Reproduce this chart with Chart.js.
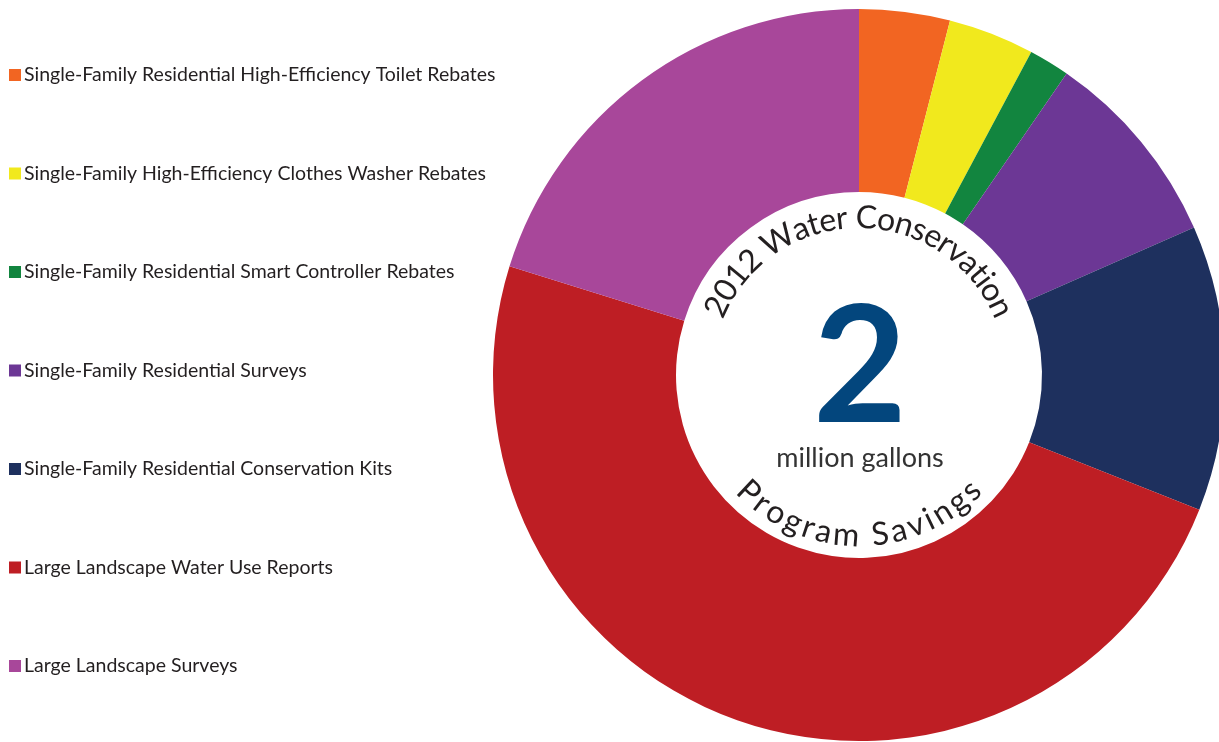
<!DOCTYPE html>
<html>
<head>
<meta charset="utf-8">
<script src="https://cdn.jsdelivr.net/npm/chart.js@4.4.1/dist/chart.umd.min.js"></script>
<style>
    html, body { margin: 0; padding: 0; background: #ffffff; overflow: hidden; }
    #savingsChart { display: block; }
</style>
</head>
<body>
<canvas id="savingsChart" width="1240" height="742"></canvas>
<script>
// program categories, share of savings (%), slice colours
const programLabels = [
    'Single-Family Residential High-Efficiency Toilet Rebates',
    'Single-Family High-Efficiency Clothes Washer Rebates',
    'Single-Family Residential Smart Controller Rebates',
    'Single-Family Residential Surveys',
    'Single-Family Residential Conservation Kits',
    'Large Landscape Water Use Reports',
    'Large Landscape Surveys'
];
const programSavings = [4.0, 3.8, 1.8, 8.8, 12.6, 48.8, 20.2];
const programColors = ['#F26522', '#F1E91D', '#12853F', '#6C3795', '#1E305E', '#BE1E24', '#A8479A'];

const topCaption = '2012 Water Conservation';
const bottomCaption = 'Program Savings';
const totalSavings = '2';
const totalUnit = 'million gallons';

function drawArcText(ctx, text, cx, cy, radius, spanDeg, onTop) {
    var widths = [];
    var sum = 0;
    for (let i = 0; i < text.length; i++) {
        var w = ctx.measureText(text[i]).width;
        widths.push(w);
        sum += w;
    }
    var target = spanDeg * Math.PI / 180 * radius;
    var gap = (target - sum) / (text.length - 1);
    var total = sum + gap * (text.length - 1);
    var cum = 0;
    ctx.textAlign = 'center';
    ctx.textBaseline = 'alphabetic';
    for (let i = 0; i < text.length; i++) {
        var mid = (cum + widths[i] / 2) / radius;
        ctx.save();
        ctx.translate(cx, cy);
        if (onTop) {
            ctx.rotate(-total / (2 * radius) + mid);
            ctx.fillText(text[i], 0, -radius);
        } else {
            ctx.rotate(total / (2 * radius) - mid);
            ctx.fillText(text[i], 0, radius);
        }
        ctx.restore();
        cum += widths[i] + gap;
    }
}

const centerTextPlugin = {
    id: 'centerText',
    afterDraw: function (chart) {
        var ctx = chart.ctx;
        var arc = chart.getDatasetMeta(0).data[0];
        var cx = arc.x;
        var cy = arc.y;

        ctx.save();
        ctx.fillStyle = '#231F20';
        ctx.font = '400 32px Lato';
        drawArcText(ctx, topCaption, cx, cy, 147, 136, true);
        drawArcText(ctx, bottomCaption, cx, cy, 171, 93, false);

        ctx.fillStyle = '#03467D';
        ctx.font = 'bold 162px Lato';
        ctx.textAlign = 'center';
        ctx.textBaseline = 'alphabetic';
        ctx.fillText(totalSavings, cx + 1, cy + 47);

        ctx.fillStyle = '#333333';
        ctx.font = '400 27px Lato';
        ctx.fillText(totalUnit, cx + 1, cy + 92);
        ctx.restore();
    }
};

const sideLegendPlugin = {
    id: 'sideLegend',
    afterDraw: function (chart) {
        var ctx = chart.ctx;
        ctx.save();
        ctx.font = '19.5px Lato';
        ctx.textAlign = 'left';
        ctx.textBaseline = 'alphabetic';
        chart.data.labels.forEach(function (label, i) {
            var top = 69 + i * 98.5;
            ctx.fillStyle = chart.data.datasets[0].backgroundColor[i];
            ctx.fillRect(9, top, 12, 12);
            ctx.fillStyle = '#231F20';
            ctx.fillText(label, 24, top + 12);
        });
        ctx.restore();
    }
};

function GenerateSavingsChart() {
    var savingsChartControl = document.getElementById('savingsChart');

    new Chart(savingsChartControl, {
        type: 'doughnut',
        data: {
            labels: programLabels,
            datasets: [{
                data: programSavings,
                backgroundColor: programColors,
                borderWidth: 0
            }]
        },
        options: {
            responsive: false,
            animation: false,
            cutout: '50%',
            layout: {
                padding: { left: 493, right: 15, top: 9, bottom: 1 }
            },
            plugins: {
                legend: { display: false },
                tooltip: { enabled: false }
            }
        },
        plugins: [centerTextPlugin, sideLegendPlugin]
    });
}

GenerateSavingsChart();
</script>
</body>
</html>
